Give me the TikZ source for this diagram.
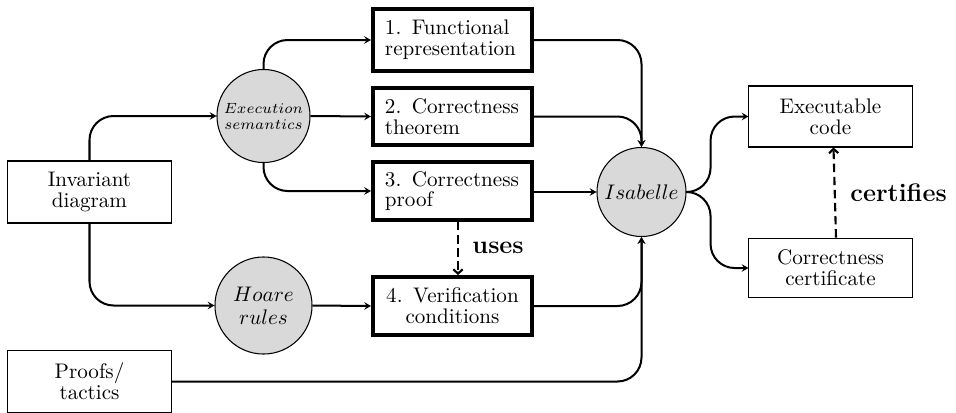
\documentclass[tikz,border=0pt]{standalone}
\usetikzlibrary{calc,arrows.meta}
\begin{document}
\begin{tikzpicture}[x=0.474pt,y=-0.474pt,
  every node/.style={font=\fontsize{10}{9.8}\selectfont},
  plainbox/.style={draw, line width=0.5pt, minimum width=77.3pt, minimum height=29.4pt,
    text width=64pt, inner sep=0pt, align=center},
  stagebox/.style={plainbox, line width=1.9pt, minimum width=75.4pt, minimum height=27.5pt,
    align=left},
  tool/.style={circle, draw, line width=0.5pt, fill=gray!30, inner sep=0pt, align=center},
  flow/.style={-{Stealth[length=3.2pt,width=3.6pt,inset=1.2pt]}, line width=0.95pt,
    rounded corners=11.4pt},
  relation/.style={-{Straight Barb[length=2pt,width=4.4pt]}, line width=1pt,
    dash pattern=on 4pt off 2.2pt},
  tag/.style={font=\large\bfseries, anchor=west, inner sep=0pt},
]
\useasboundingbox (0,0) rectangle (956,412);

% inputs
\node[plainbox] (inv) at (89.5,192) {Invariant\\diagram};
\node[plainbox] (prf) at (89.5,381.5) {Proofs/\\tactics};

% semantics and rules
\node[tool, minimum size=44.1pt, font=\fontsize{7}{7.6}\selectfont] (sem) at (263.5,116)
  {$Execution$\\$semantics$};
\node[tool, minimum size=46pt, font=\fontsize{10}{10.7}\selectfont] (hoare) at (263.5,305.5)
  {$Hoare$\\$rules$};

% generated artefacts
\node[stagebox, minimum height=29.4pt] (s1) at (452.5,40) {1. Functional\\representation};
\node[stagebox, minimum height=27pt] (s2) at (452.5,116.5) {2. Correctness\\theorem};
\node[stagebox] (s3) at (452.5,191) {3. Correctness\\proof};
\node[stagebox, align=center] (s4) at (452.5,306) {4. Verification\\conditions};

% prover and outputs
\node[tool, minimum size=42.2pt] (isa) at (641.5,192) {$Isabelle$};
\node[plainbox, minimum height=28.9pt] (code) at (830.5,116.5) {Executable\\code};
\node[plainbox, minimum height=28.4pt] (cert) at (830.5,268) {Correctness\\certificate};

% data flow
\draw[flow] (inv.north) |- (sem.west);
\draw[flow] (inv.south) |- (hoare.west);
\draw[flow] (sem.north) |- (s1.west);
\draw[flow] (sem.east) -- (s2.west);
\draw[flow] (sem.south) |- (s3.west);
\draw[flow] (hoare.east) -- (s4.west);
\draw[flow] (s1.east) -| (isa.north);
\draw[flow] (s2.east) -| (isa.north);
\draw[flow] (s3.east |- isa.west) -- (isa.west);
\draw[flow] (s4.east) -| (isa.south);
\draw[flow] (prf.east) -| (isa.south);
\draw[flow] (isa.east) -- ++(24,0) |- (code.west);
\draw[flow] (isa.east) -- ++(24,0) |- (cert.west);

% relations
\draw[relation] ($(s3.south)+(5.5,0)$) -- ($(s4.north)+(5.5,0)$);
\node[tag] (uses) at (472,248) {uses};
\draw[relation] ($(cert.north)+(5.5,0)$) -- ($(code.south)+(3,0)$);
\node[tag] (certifies) at (850,193) {certifies};
\end{tikzpicture}
\end{document}
